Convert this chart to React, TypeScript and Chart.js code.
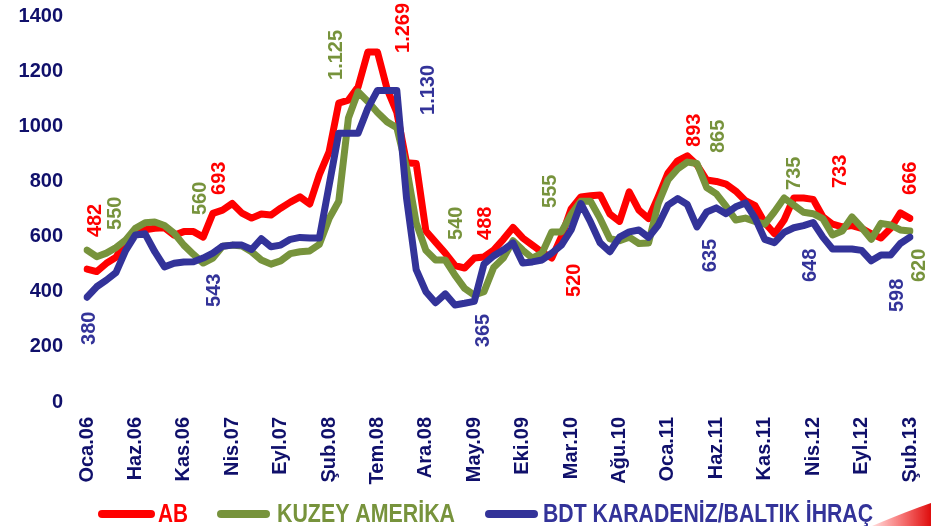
import React, { useEffect, useRef } from "react";
import { Chart, registerables } from "chart.js";

Chart.register(...registerables);

// ---- DATA ----
const monthAbbr = ["Oca", "Şub", "Mar", "Nis", "May", "Haz", "Tem", "Ağu", "Eyl", "Eki", "Kas", "Ara"];
const categories: string[] = [];
for (let yr = 2006; yr <= 2013; yr++) {
  for (let m = 0; m < 12; m++) {
    if (yr === 2013 && m > 1) break;
    categories.push(`${monthAbbr[m]}.${String(yr % 100).padStart(2, "0")}`);
  }
}

const tickLabels = [
  "Oca.06", "Haz.06", "Kas.06", "Nis.07", "Eyl.07", "Şub.08", "Tem.08", "Ara.08", "May.09",
  "Eki.09", "Mar.10", "Ağu.10", "Oca.11", "Haz.11", "Kas.11", "Nis.12", "Eyl.12", "Şub.13",
];

const yTicks = [0, 200, 400, 600, 800, 1000, 1200, 1400];

const seriesNames = ["AB", "KUZEY AMERİKA", "BDT KARADENİZ/BALTIK İHRAÇ"];

const abValues = [
  482, 473, 503, 525, 585, 615, 625, 630, 632, 605, 618, 618, 598, 684, 696, 720, 685, 667, 682, 678,
  703, 725, 744, 718, 825, 907, 1084, 1095, 1143, 1269, 1269, 1135, 1050, 868, 865, 620, 580, 540, 495, 486,
  522, 526, 551, 590, 633, 595, 569, 543, 522, 600, 700, 744, 748, 751, 682, 655, 762, 696, 665, 745,
  830, 875, 893, 860, 805, 800, 790, 765, 730, 712, 650, 610, 660, 740, 740, 735, 672, 645, 635, 640,
  630, 610, 595, 630, 686, 666,
];

const kuzeyAmerikaValues = [
  551, 527, 540, 560, 588, 630, 650, 653, 640, 612, 569, 535, 504, 522, 565, 569, 566, 545, 515, 500,
  512, 538, 545, 548, 572, 665, 728, 1030, 1125, 1090, 1050, 1016, 995, 850, 650, 550, 515, 515, 460, 412,
  388, 400, 488, 522, 585, 551, 522, 540, 617, 617, 680, 728, 728, 665, 592, 585, 598, 575, 577, 720,
  805, 845, 870, 865, 778, 755, 710, 660, 667, 655, 645, 690, 740, 714, 688, 683, 665, 606, 620, 671,
  633, 590, 648, 642, 624, 620,
];

const bdtValues = [
  380, 418, 442, 470, 550, 606, 610, 545, 490, 503, 508, 509, 522, 540, 565, 569, 569, 553, 592, 563,
  569, 590, 597, 595, 595, 785, 975, 975, 975, 1065, 1130, 1130, 1130, 740, 480, 400, 360, 392, 352, 358,
  365, 500, 530, 551, 577, 504, 508, 515, 540, 569, 624, 720, 653, 577, 545, 598, 617, 624, 597, 642,
  714, 738, 716, 635, 689, 704, 683, 708, 722, 667, 590, 578, 615, 632, 640, 651, 598, 555, 555, 555,
  550, 512, 533, 533, 575, 598,
];

// value annotations: text, series index, anchor category position, anchor value (bottom of the rotated text)
const annotTexts = ["482", "550", "380", "560", "693", "543", "1.125", "1.269", "1.130", "540", "488", "365", "555", "520", "893", "865", "635", "735", "733", "648", "666", "598", "620"];
const annotSeries = [0, 1, 2, 1, 0, 2, 1, 0, 2, 1, 0, 2, 1, 0, 0, 1, 2, 1, 0, 2, 0, 2, 1];
const annotAt = [0.9, 2.9, 0.3, 11.7, 13.7, 13.2, 25.8, 32.7, 35.3, 38.2, 41.2, 41.0, 47.9, 50.3, 62.7, 65.2, 64.4, 73.1, 77.8, 74.7, 85.0, 83.7, 86.0];
const annotValue = [598, 624, 207, 678, 751, 345, 1168, 1266, 1041, 588, 588, 199, 704, 381, 925, 903, 471, 769, 776, 435, 751, 326, 435];

const seriesColors = ["#FF0000", "#77933C", "#333399"];
const axisTextColor = "#10106B";
const axisFont = 'bold 20px "Liberation Sans", Arial, sans-serif';

const axisLabelsPlugin = {
  id: "axisLabels",
  afterDraw(chart: any) {
    const { ctx, chartArea } = chart;
    const xs = chart.scales.x;
    const ys = chart.scales.y;
    ctx.save();
    ctx.font = axisFont;
    ctx.fillStyle = axisTextColor;
    // y tick labels, right aligned
    ctx.textAlign = "right";
    ctx.textBaseline = "middle";
    yTicks.forEach((v) => {
      ctx.fillText(String(v), chartArea.left - 24, ys.getPixelForValue(v));
    });
    // x tick labels, rotated
    tickLabels.forEach((lab) => {
      const idx = categories.indexOf(lab);
      const px = xs.getPixelForValue(idx);
      ctx.save();
      ctx.translate(px, chartArea.bottom + 15);
      ctx.rotate(-Math.PI / 2);
      ctx.textAlign = "right";
      ctx.textBaseline = "middle";
      ctx.fillText(lab, 0, 0);
      ctx.restore();
    });
    ctx.restore();
  },
};

const annotationPlugin = {
  id: "valueAnnotations",
  afterDatasetsDraw(chart: any) {
    const { ctx } = chart;
    const xs = chart.scales.x;
    const ys = chart.scales.y;
    ctx.save();
    ctx.font = 'bold 20px "Liberation Sans", Arial, sans-serif';
    ctx.textBaseline = "middle";
    ctx.textAlign = "left";
    annotTexts.forEach((t, i) => {
      const px = xs.getPixelForValue(annotAt[i]);
      const py = ys.getPixelForValue(annotValue[i]);
      ctx.save();
      ctx.translate(px, py);
      ctx.rotate(-Math.PI / 2);
      ctx.fillStyle = seriesColors[annotSeries[i]];
      ctx.fillText(t, 0, 0);
      ctx.restore();
    });
    ctx.restore();
  },
};

const legendPlugin = {
  id: "customLegend",
  afterDraw(chart: any) {
    const { ctx } = chart;
    const items = [
      { x1: 102, x2: 151, tx: 158, w: 30 },
      { x1: 221, x2: 266, tx: 277, w: 178 },
      { x1: 489, x2: 534, tx: 543, w: 330 },
    ];
    const cy = 514;
    ctx.save();
    items.forEach((it, i) => {
      ctx.strokeStyle = seriesColors[i];
      ctx.lineWidth = 8;
      ctx.lineCap = "round";
      ctx.beginPath();
      ctx.moveTo(it.x1, cy);
      ctx.lineTo(it.x2, cy);
      ctx.stroke();
      ctx.fillStyle = seriesColors[i];
      ctx.font = 'bold 25px "Liberation Sans Narrow", "Liberation Sans", Arial, sans-serif';
      ctx.textBaseline = "middle";
      ctx.textAlign = "left";
      ctx.fillText(seriesNames[i], it.tx, cy + 1, it.w);
    });
    // decorative swoosh bottom-right
    const g = ctx.createLinearGradient(870, 0, 931, 0);
    g.addColorStop(0, "rgba(255,0,0,0.1)");
    g.addColorStop(1, "rgba(220,0,0,0.95)");
    ctx.fillStyle = g;
    ctx.beginPath();
    ctx.moveTo(872, 526);
    ctx.quadraticCurveTo(905, 512, 931, 503);
    ctx.lineTo(931, 526);
    ctx.closePath();
    ctx.fill();
    ctx.restore();
  },
};

export default function App() {
  const canvasRef = useRef<HTMLCanvasElement | null>(null);

  useEffect(() => {
    if (!canvasRef.current) return;
    const mk = (i: number, data: number[], order: number) => ({
      label: seriesNames[i],
      data,
      borderColor: seriesColors[i],
      backgroundColor: seriesColors[i],
      borderWidth: 7,
      borderJoinStyle: "round" as const,
      borderCapStyle: "round" as const,
      pointRadius: 0,
      tension: 0,
      fill: false,
      order,
    });
    const chart = new Chart(canvasRef.current, {
      type: "line",
      data: {
        labels: categories,
        datasets: [mk(0, abValues, 2), mk(1, kuzeyAmerikaValues, 1), mk(2, bdtValues, 0)],
      },
      options: {
        animation: false,
        responsive: false,
        maintainAspectRatio: false,
        layout: { autoPadding: false, padding: { left: 0, right: 21, top: 16, bottom: 44 } },
        plugins: { legend: { display: false }, tooltip: { enabled: false } },
        scales: {
          x: {
            offset: false,
            grid: { display: false, drawTicks: false },
            border: { display: false },
            afterFit: (s: any) => {
              s.height = 80;
            },
            ticks: { display: false, autoSkip: false },
          },
          y: {
            min: 0,
            max: 1400,
            grid: { display: false, drawTicks: false },
            border: { display: false },
            afterFit: (s: any) => {
              s.width = 87;
            },
            ticks: { display: false, stepSize: 200 },
          },
        },
      },
      plugins: [annotationPlugin, axisLabelsPlugin, legendPlugin],
    });
    return () => chart.destroy();
  }, []);

  return (
    <div style={{ width: 931, height: 526, position: "relative", background: "#fff" }}>
      <style>{`body{margin:0;}`}</style>
      <canvas ref={canvasRef} width={931} height={526} style={{ display: "block", width: 931, height: 526 }} />
    </div>
  );
}
